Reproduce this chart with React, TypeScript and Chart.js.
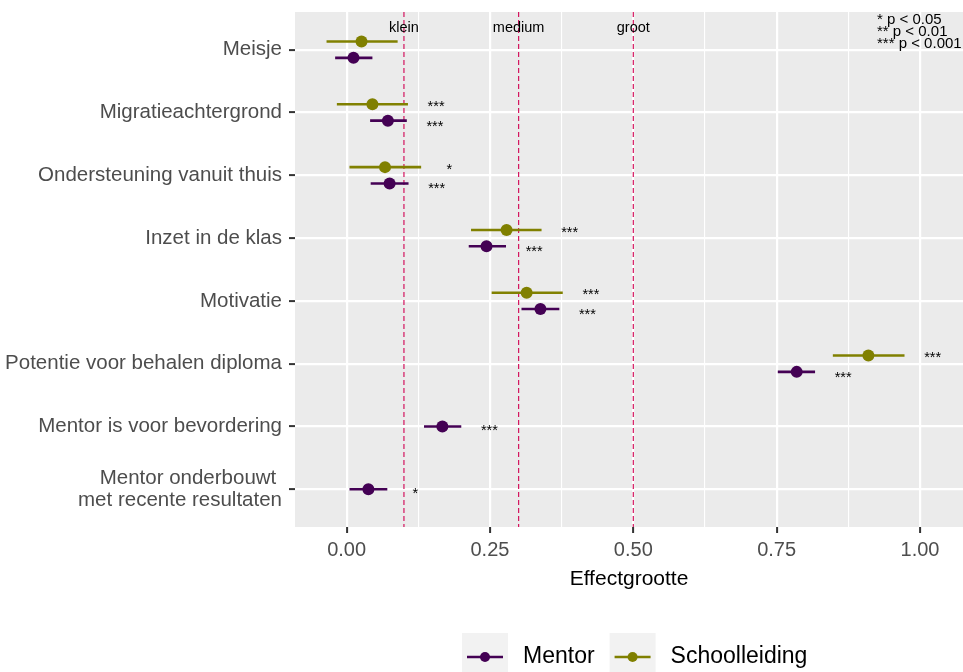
import React, { useEffect, useRef } from "react";
import { Chart, registerables } from "chart.js";

Chart.register(...registerables);

// ---------- data ----------
const categories: (string | string[])[] = [
  "Meisje",
  "Migratieachtergrond",
  "Ondersteuning vanuit thuis",
  "Inzet in de klas",
  "Motivatie",
  "Potentie voor behalen diploma",
  "Mentor is voor bevordering",
  ["Mentor onderbouwt ", "met recente resultaten"],
];

const mentorEst = [0.012, 0.072, 0.075, 0.244, 0.338, 0.785, 0.167, 0.038];
const mentorLo = [-0.02, 0.041, 0.042, 0.213, 0.305, 0.752, 0.135, 0.005];
const mentorHi = [0.045, 0.105, 0.108, 0.278, 0.371, 0.817, 0.2, 0.071];
const mentorSig = ["", "***", "***", "***", "***", "***", "***", "*"];

const schoolEst: (number | null)[] = [0.026, 0.045, 0.067, 0.279, 0.314, 0.91, null, null];
const schoolLo: (number | null)[] = [-0.035, -0.017, 0.005, 0.217, 0.253, 0.848, null, null];
const schoolHi: (number | null)[] = [0.089, 0.107, 0.13, 0.34, 0.377, 0.973, null, null];
const schoolSig = ["", "***", "*", "***", "***", "***", "", ""];

const refValues = [0.1, 0.3, 0.5];
const refLabels = ["klein", "medium", "groot"];

const xMajorTicks = [0, 0.25, 0.5, 0.75, 1];
const xTickLabels = ["0.00", "0.25", "0.50", "0.75", "1.00"];

const sigLegend = ["* p < 0.05", "** p < 0.01", "*** p < 0.001"];
const seriesNames = ["Mentor", "Schoolleiding"];

// ---------- styles ----------
const FONT = "'Liberation Sans', Arial, Helvetica, sans-serif";
const MENTOR_COLOR = "#440154";
const SCHOOL_COLOR = "#808000";
const REF_COLOR = "#D4145E";
const PANEL_BG = "#EBEBEB";
const AXIS_TEXT = "#4D4D4D";
const DODGE = 0.13;
const STAR_DODGE = 0.155;
const STAR_GAP = 0.049;

const xMinorTicks = xMajorTicks.slice(0, -1).map((v, i) => (v + xMajorTicks[i + 1]) / 2);
const isMajor = (v: number) => xMajorTicks.includes(v);

export default function App() {
  const ref = useRef<HTMLCanvasElement>(null);

  useEffect(() => {
    document.body.style.margin = "0";
    const canvas = ref.current;
    if (!canvas) return;

    const hasSchool = (i: number) => schoolEst[i] != null;
    const mentorY = (i: number) => (hasSchool(i) ? i + DODGE : i);
    const schoolY = (i: number) => i - DODGE;

    const datasets: any[] = [];
    refValues.forEach((v) => {
      datasets.push({
        type: "line",
        data: [
          { x: v, y: -0.6 },
          { x: v, y: 7.6 },
        ],
        borderColor: REF_COLOR,
        borderWidth: 1.2,
        borderDash: [5, 3],
        pointRadius: 0,
        order: 10,
      });
    });
    categories.forEach((_, i) => {
      if (hasSchool(i)) {
        datasets.push({
          type: "line",
          data: [
            { x: schoolLo[i], y: schoolY(i) },
            { x: schoolHi[i], y: schoolY(i) },
          ],
          borderColor: SCHOOL_COLOR,
          borderWidth: 2.6,
          pointRadius: 0,
          order: 5,
        });
      }
      datasets.push({
        type: "line",
        data: [
          { x: mentorLo[i], y: mentorY(i) },
          { x: mentorHi[i], y: mentorY(i) },
        ],
        borderColor: MENTOR_COLOR,
        borderWidth: 2.6,
        pointRadius: 0,
        order: 5,
      });
    });
    datasets.push({
      type: "scatter",
      label: "Schoolleiding",
      data: categories
        .map((_, i) => (hasSchool(i) ? { x: schoolEst[i], y: schoolY(i) } : null))
        .filter(Boolean),
      backgroundColor: SCHOOL_COLOR,
      pointBackgroundColor: SCHOOL_COLOR,
      pointBorderWidth: 0,
      pointRadius: 6,
      order: 1,
    });
    datasets.push({
      type: "scatter",
      label: "Mentor",
      data: categories.map((_, i) => ({ x: mentorEst[i], y: mentorY(i) })),
      backgroundColor: MENTOR_COLOR,
      pointBackgroundColor: MENTOR_COLOR,
      pointBorderWidth: 0,
      pointRadius: 6,
      order: 1,
    });

    const customPlugin = {
      id: "custom",
      beforeDraw(chart: any) {
        const { ctx, chartArea: a } = chart;
        ctx.save();
        ctx.fillStyle = PANEL_BG;
        ctx.fillRect(a.left, a.top, a.right - a.left, a.bottom - a.top);
        ctx.restore();
      },
      afterDatasetsDraw(chart: any) {
        const { ctx, chartArea: a } = chart;
        const xs = chart.scales.x;
        const ys = chart.scales.y;
        ctx.save();
        ctx.fillStyle = "#000000";
        ctx.font = `14.5px ${FONT}`;
        ctx.textAlign = "center";
        ctx.textBaseline = "alphabetic";
        const starShift = 8.3;
        categories.forEach((_, i) => {
          if (mentorSig[i]) {
            const yy = ys.getPixelForValue(hasSchool(i) ? i + STAR_DODGE : i);
            ctx.fillText(mentorSig[i], xs.getPixelForValue(mentorHi[i] + STAR_GAP), yy + starShift);
          }
          if (schoolSig[i] && hasSchool(i)) {
            const yy = ys.getPixelForValue(i - STAR_DODGE);
            ctx.fillText(schoolSig[i], xs.getPixelForValue((schoolHi[i] as number) + STAR_GAP), yy + starShift);
          }
        });
        refValues.forEach((v, k) => {
          ctx.fillText(refLabels[k], xs.getPixelForValue(v), a.top + 20);
        });
        ctx.font = `15px ${FONT}`;
        ctx.textAlign = "left";
        sigLegend.forEach((t, k) => {
          ctx.fillText(t, a.right - 86, a.top + 12 + 12 * k);
        });
        ctx.restore();
      },
      afterDraw(chart: any) {
        const { ctx } = chart;
        ctx.save();
        const colors = [MENTOR_COLOR, SCHOOL_COLOR];
        let x = 462;
        const top = 633;
        const keyW = 46;
        const keyH = 48;
        ctx.font = `23px ${FONT}`;
        ctx.textBaseline = "middle";
        ctx.textAlign = "left";
        seriesNames.forEach((name, k) => {
          ctx.fillStyle = "#F2F2F2";
          ctx.fillRect(x, top, keyW, keyH);
          const cy = top + 24;
          ctx.strokeStyle = colors[k];
          ctx.lineWidth = 2.6;
          ctx.beginPath();
          ctx.moveTo(x + 5, cy);
          ctx.lineTo(x + keyW - 5, cy);
          ctx.stroke();
          ctx.fillStyle = colors[k];
          ctx.beginPath();
          ctx.arc(x + keyW / 2, cy, 5, 0, Math.PI * 2);
          ctx.fill();
          ctx.fillStyle = "#000000";
          const tx = x + keyW + 15;
          ctx.fillText(name, tx, cy);
          x = tx + ctx.measureText(name).width + 15;
        });
        ctx.restore();
      },
    };

    const chart = new Chart(canvas, {
      type: "scatter",
      data: { datasets },
      options: {
        animation: false,
        responsive: false,
        maintainAspectRatio: false,
        events: [],
        layout: { autoPadding: false, padding: { top: 12, right: 0, bottom: 72, left: 0 } },
        plugins: { legend: { display: false }, tooltip: { enabled: false } },
        scales: {
          x: {
            type: "linear",
            min: -0.09,
            max: 1.075,
            afterBuildTicks: (s: any) => {
              s.ticks = [...xMajorTicks, ...xMinorTicks].sort((a, b) => a - b).map((v) => ({ value: v }));
            },
            afterFit: (s: any) => {
              s.height = 73;
              s.paddingLeft = 0;
              s.paddingRight = 0;
              s.paddingTop = 0;
              s.paddingBottom = 0;
            },
            ticks: {
              autoSkip: false,
              maxRotation: 0,
              padding: 5,
              color: AXIS_TEXT,
              font: { family: FONT, size: 20 },
              callback: (v: any) => {
                const idx = xMajorTicks.indexOf(Number(v));
                return idx >= 0 ? xTickLabels[idx] : "";
              },
            },
            grid: {
              color: "#FFFFFF",
              lineWidth: (c: any) => (c.tick && isMajor(c.tick.value) ? 2.2 : 1.1),
              tickLength: 6,
              tickWidth: 2,
              tickColor: (c: any) => (c.tick && isMajor(c.tick.value) ? "#333333" : "rgba(0,0,0,0)"),
            },
            border: { display: false },
            title: {
              display: true,
              text: "Effectgrootte",
              color: "#000000",
              font: { family: FONT, size: 21 },
              padding: { top: 0, bottom: 8 },
            },
          },
          y: {
            type: "linear",
            min: -0.6,
            max: 7.6,
            reverse: true,
            afterBuildTicks: (s: any) => {
              s.ticks = categories.map((_, i) => ({ value: i }));
            },
            afterFit: (s: any) => {
              s.width = 295;
              s.paddingLeft = 0;
              s.paddingRight = 0;
              s.paddingTop = 0;
              s.paddingBottom = 0;
            },
            ticks: {
              autoSkip: false,
              padding: 7,
              color: AXIS_TEXT,
              font: { family: FONT, size: 20.5, lineHeight: 1.05 },
              callback: (_v: any, idx: number) => categories[idx] as any,
            },
            grid: {
              color: "#FFFFFF",
              lineWidth: 2.2,
              tickLength: 6,
              tickWidth: 2,
              tickColor: "#333333",
            },
            border: { display: false },
          },
        },
      },
      plugins: [customPlugin],
    } as any);

    return () => chart.destroy();
  }, []);

  return (
    <div style={{ width: 963, height: 672, position: "relative", background: "#FFFFFF" }}>
      <canvas ref={ref} width={963} height={672} style={{ display: "block", width: 963, height: 672 }} />
    </div>
  );
}
